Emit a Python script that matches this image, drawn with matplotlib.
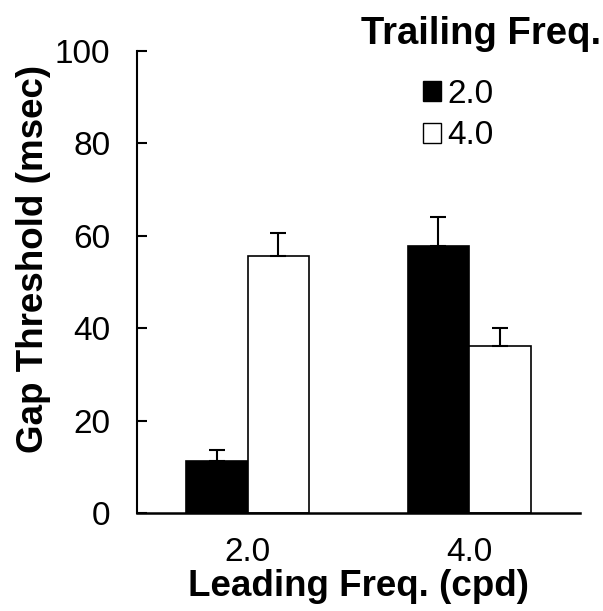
import numpy as np
import matplotlib.pyplot as plt
from matplotlib.patches import Patch

plt.rcParams['font.family'] = ['Liberation Sans', 'DejaVu Sans']

leading = ['2.0', '4.0']
trailing = ['2.0', '4.0']
thresh_t2 = [11.4, 57.7]
err_t2 = [2.3, 6.4]
thresh_t4 = [55.7, 36.1]
err_t4 = [4.8, 4.0]

fig = plt.figure(figsize=(6.03, 6.11), dpi=100)
ax = fig.add_axes([0.227, 0.160, 0.735, 0.757])

x = np.arange(len(leading))
w = 0.278
ax.bar(x - w / 2, thresh_t2, w, color='black', edgecolor='black', linewidth=1.2,
       yerr=[np.zeros(2), err_t2], capsize=6,
       error_kw=dict(elinewidth=1.5, capthick=1.5, ecolor='black'))
ax.bar(x + w / 2, thresh_t4, w, color='white', edgecolor='black', linewidth=1.2,
       yerr=[np.zeros(2), err_t4], capsize=6,
       error_kw=dict(elinewidth=1.5, capthick=1.5, ecolor='black'))

ax.set_xlim(-0.5, 1.5)
ax.set_ylim(0, 100)
ax.set_yticks(range(0, 101, 20))
ax.set_xticks(x)
ax.set_xticklabels(leading)
ax.tick_params(axis='y', direction='in', length=7, width=1.5, pad=19, labelsize=24)
ax.tick_params(axis='x', length=0, pad=17, labelsize=24)
for s in ['top', 'right']:
    ax.spines[s].set_visible(False)
ax.spines['left'].set_linewidth(1.5)
ax.spines['bottom'].set_linewidth(1.8)

ax.set_xlabel('Leading Freq. (cpd)', fontsize=26.5, fontweight='bold', labelpad=1)
ax.set_ylabel('Gap Threshold (msec)', fontsize=26.5, fontweight='bold')
ax.yaxis.set_label_coords(-0.194, 0.55)

handles = [Patch(facecolor='black', edgecolor='black'),
           Patch(facecolor='white', edgecolor='black')]
fig.text(0.997, 0.944, 'Trailing Freq.', fontsize=27.5, fontweight='bold',
         ha='right', va='center')
fig.legend(handles, trailing, loc='upper left', bbox_to_anchor=(0.701, 0.871),
           frameon=False, fontsize=24, handlelength=0.55, handleheight=0.55,
           handletextpad=0.2, labelspacing=0.32, borderpad=0, borderaxespad=0)

fig.savefig('out.png', dpi=100)
